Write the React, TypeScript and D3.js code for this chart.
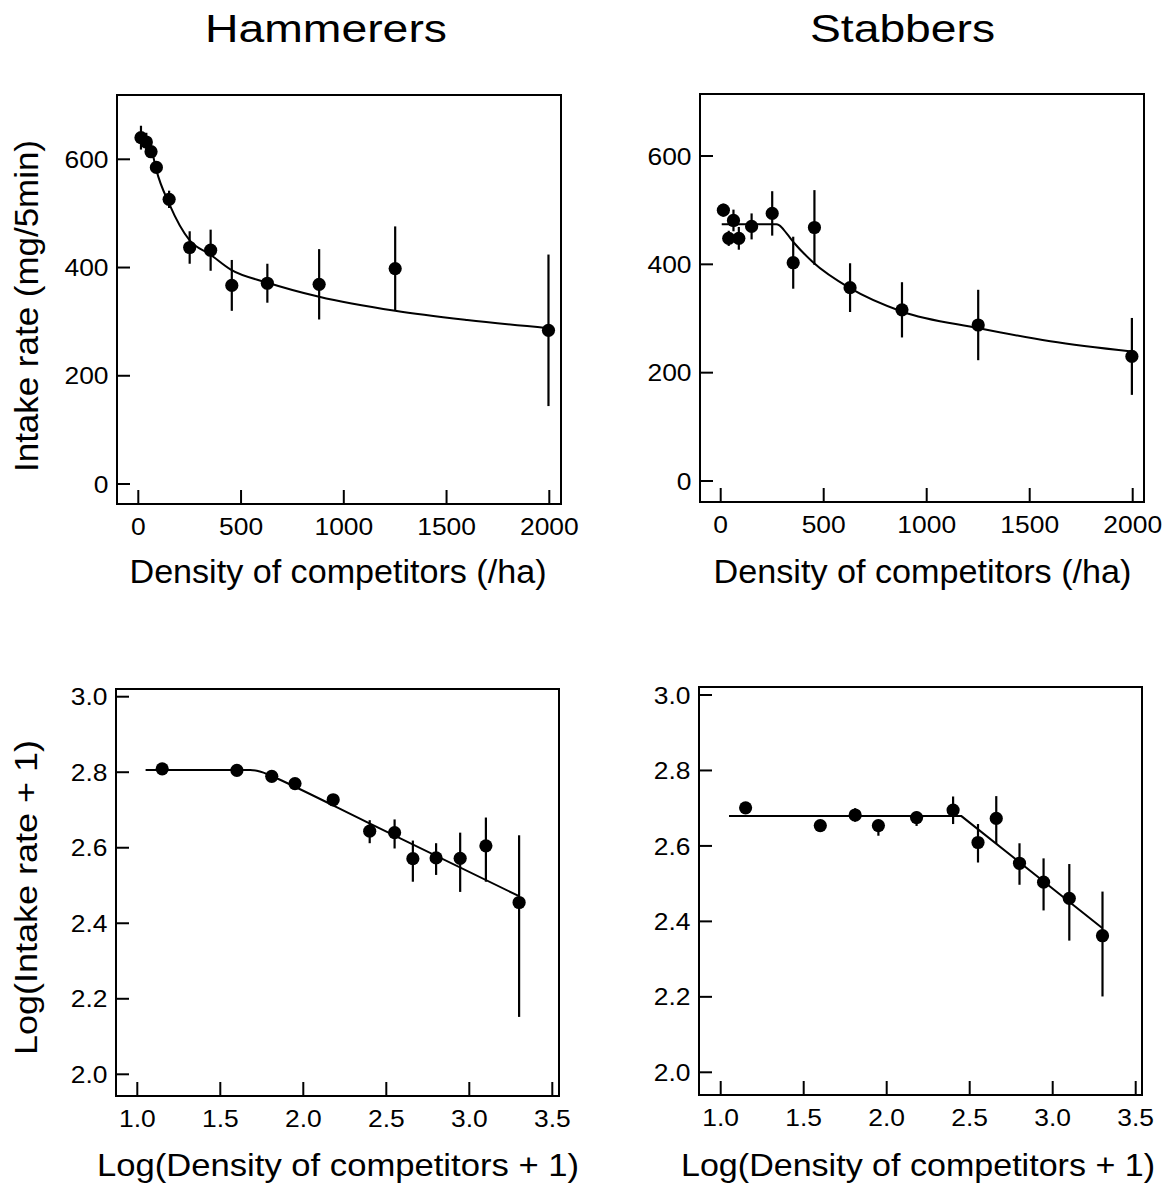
import React from "react";
import * as d3 from "d3";

// Competitor densities (birds/ha) shared by both feeding groups
const densities = [13, 39, 62, 88, 150, 250, 352, 455, 628, 880, 1250, 1996];

// Hammerers: mean intake rate (mg/5min) and standard errors
const hammererIntake = [640, 632, 614, 585, 526, 437, 432, 367, 371, 369, 398, 284];
const hammererSE = [22, 17, 10, 10, 16, 30, 38, 47, 36, 65, 78, 140];

// Stabbers: mean intake rate (mg/5min) and standard errors
const stabberIntake = [500, 448, 481, 448, 470, 494, 403, 468, 357, 316, 288, 230];
const stabberSE = [12, 14, 20, 21, 24, 41, 48, 69, 45, 51, 65, 71];

// Log-transformed versions
const logDensities = [1.15, 1.6, 1.81, 1.95, 2.18, 2.4, 2.55, 2.66, 2.8, 2.945, 3.1, 3.3];
const hammererLog = [2.809, 2.805, 2.789, 2.77, 2.727, 2.644, 2.64, 2.571, 2.573, 2.572, 2.605, 2.455];
const hammererLogLo = [2.8, 2.8, 2.782, 2.762, 2.717, 2.612, 2.598, 2.51, 2.528, 2.483, 2.51, 2.152];
const hammererLogHi = [2.818, 2.812, 2.797, 2.779, 2.737, 2.673, 2.675, 2.619, 2.612, 2.64, 2.68, 2.633];
const stabberLog = [2.701, 2.654, 2.682, 2.654, 2.675, 2.695, 2.609, 2.673, 2.554, 2.504, 2.461, 2.362];
const stabberLogLo = [2.691, 2.641, 2.664, 2.627, 2.653, 2.658, 2.556, 2.605, 2.497, 2.429, 2.349, 2.201];
const stabberLogHi = [2.711, 2.667, 2.7, 2.669, 2.691, 2.731, 2.658, 2.732, 2.607, 2.567, 2.552, 2.479];

// Fitted interference curves
const hammererFitDensity = [10, 39, 50, 62, 88, 150, 250, 350, 450, 630, 880, 1250, 1600, 1996];
const hammererFitIntake = [639, 638, 635, 622, 580, 518, 450, 424, 396, 372, 346, 320, 303, 288];
const stabberFitDensity = [5, 270, 285, 320, 360, 448, 628, 879, 1254, 1600, 1996];
const stabberFitIntake = [474, 474, 472, 457, 438, 404, 356, 313, 282, 258, 239];
const hammererLogFitX = [1.05, 1.68, 1.72, 1.76, 1.8, 1.85, 2.38, 3.3];
const hammererLogFitY = [2.806, 2.806, 2.804, 2.799, 2.792, 2.782, 2.6686, 2.4717];
const stabberLogFitX = [1.05, 2.45, 3.3];
const stabberLogFitY = [2.679, 2.679, 2.382];

// Axis ticks and labels
const densityTicks = [0, 500, 1000, 1500, 2000];
const intakeTicks = [0, 200, 400, 600];
const logDensityTicks = [1.0, 1.5, 2.0, 2.5, 3.0, 3.5];
const logIntakeTicks = [2.0, 2.2, 2.4, 2.6, 2.8, 3.0];
const groupTitles = ["Hammerers", "Stabbers"];
const xTitles = ["Density of competitors (/ha)", "Log(Density of competitors + 1)"];
const yTitles = ["Intake rate (mg/5min)", "Log(Intake rate + 1)"];

const FONT = "'Liberation Sans', Arial, Helvetica, sans-serif";

type Frame = { l: number; r: number; t: number; b: number };

type PanelProps = {
  frame: Frame;
  xDomain: [number, number];
  xRange: [number, number];
  yDomain: [number, number];
  yRange: [number, number];
  xTicks: number[];
  yTicks: number[];
  fmt: (v: number) => string;
  xs: number[];
  ys: number[];
  lo: number[];
  hi: number[];
  fitX: number[];
  fitY: number[];
  curve: d3.CurveFactory;
};

function Panel(p: PanelProps) {
  const x = d3.scaleLinear().domain(p.xDomain).range(p.xRange);
  const y = d3.scaleLinear().domain(p.yDomain).range(p.yRange);
  const { l, r, t, b } = p.frame;
  const fitPts: [number, number][] = p.fitX.map((v, i) => [v, p.fitY[i]]);
  const line = d3
    .line<[number, number]>()
    .x((d) => x(d[0]))
    .y((d) => y(d[1]))
    .curve(p.curve);
  return (
    <g>
      <rect x={l} y={t} width={r - l} height={b - t} fill="none" stroke="#000" strokeWidth={2} />
      {p.xTicks.map((v) => (
        <g key={"xt" + v}>
          <line x1={x(v)} x2={x(v)} y1={b} y2={b - 14} stroke="#000" strokeWidth={2} />
          <text
            transform={`translate(${x(v)},${b + 30.5}) scale(1.1,1)`}
            textAnchor="middle"
            fontSize={24}
            fontFamily={FONT}
          >
            {p.fmt(v)}
          </text>
        </g>
      ))}
      {p.yTicks.map((v) => (
        <g key={"yt" + v}>
          <line x1={l} x2={l + 13} y1={y(v)} y2={y(v)} stroke="#000" strokeWidth={2} />
          <text
            transform={`translate(${l - 8.5},${y(v) + 8.6}) scale(1.1,1)`}
            textAnchor="end"
            fontSize={24}
            fontFamily={FONT}
          >
            {p.fmt(v)}
          </text>
        </g>
      ))}
      <path d={line(fitPts) || ""} fill="none" stroke="#000" strokeWidth={2} />
      {p.xs.map((v, i) => (
        <line
          key={"eb" + i}
          x1={x(v)}
          x2={x(v)}
          y1={y(p.lo[i])}
          y2={y(p.hi[i])}
          stroke="#000"
          strokeWidth={2.2}
        />
      ))}
      {p.xs.map((v, i) => (
        <circle key={"pt" + i} cx={x(v)} cy={y(p.ys[i])} r={6.6} fill="#000" />
      ))}
    </g>
  );
}

export default function App() {
  const intFmt = d3.format("d");
  const decFmt = d3.format(".1f");
  return (
    <svg
      width={1167}
      height={1183}
      viewBox="0 0 1167 1183"
      style={{ position: "absolute", left: 0, top: 0, background: "#fff" }}
    >
      <rect x={0} y={0} width={1167} height={1183} fill="#fff" />

      {/* group headings */}
      <text x={326} y={42.3} textAnchor="middle" fontSize={38} fontFamily={FONT} textLength={242} lengthAdjust="spacingAndGlyphs">
        {groupTitles[0]}
      </text>
      <text x={902.5} y={42.3} textAnchor="middle" fontSize={38} fontFamily={FONT} textLength={185} lengthAdjust="spacingAndGlyphs">
        {groupTitles[1]}
      </text>

      {/* raw intake vs density */}
      <Panel
        frame={{ l: 117, r: 561, t: 95, b: 504 }}
        xDomain={[0, 2000]}
        xRange={[138.3, 549.3]}
        yDomain={[0, 600]}
        yRange={[484, 159.3]}
        xTicks={densityTicks}
        yTicks={intakeTicks}
        fmt={intFmt}
        xs={densities}
        ys={hammererIntake}
        lo={hammererIntake.map((v, i) => v - hammererSE[i])}
        hi={hammererIntake.map((v, i) => v + hammererSE[i])}
        fitX={hammererFitDensity}
        fitY={hammererFitIntake}
        curve={d3.curveMonotoneX}
      />
      <Panel
        frame={{ l: 700, r: 1144, t: 94, b: 502 }}
        xDomain={[0, 2000]}
        xRange={[720.7, 1132.7]}
        yDomain={[0, 600]}
        yRange={[481, 156]}
        xTicks={densityTicks}
        yTicks={intakeTicks}
        fmt={intFmt}
        xs={densities}
        ys={stabberIntake}
        lo={stabberIntake.map((v, i) => v - stabberSE[i])}
        hi={stabberIntake.map((v, i) => v + stabberSE[i])}
        fitX={stabberFitDensity}
        fitY={stabberFitIntake}
        curve={d3.curveMonotoneX}
      />

      {/* log-log panels */}
      <Panel
        frame={{ l: 116, r: 559, t: 689, b: 1096 }}
        xDomain={[1, 3.5]}
        xRange={[137.3, 552.3]}
        yDomain={[2, 3]}
        yRange={[1074.3, 696.7]}
        xTicks={logDensityTicks}
        yTicks={logIntakeTicks}
        fmt={decFmt}
        xs={logDensities}
        ys={hammererLog}
        lo={hammererLogLo}
        hi={hammererLogHi}
        fitX={hammererLogFitX}
        fitY={hammererLogFitY}
        curve={d3.curveMonotoneX}
      />
      <Panel
        frame={{ l: 699, r: 1142, t: 687, b: 1095 }}
        xDomain={[1, 3.5]}
        xRange={[720.7, 1135.7]}
        yDomain={[2, 3]}
        yRange={[1072.3, 695]}
        xTicks={logDensityTicks}
        yTicks={logIntakeTicks}
        fmt={decFmt}
        xs={logDensities}
        ys={stabberLog}
        lo={stabberLogLo}
        hi={stabberLogHi}
        fitX={stabberLogFitX}
        fitY={stabberLogFitY}
        curve={d3.curveLinear}
      />

      {/* axis titles */}
      <text x={338} y={583} textAnchor="middle" fontSize={32.5} fontFamily={FONT} textLength={417} lengthAdjust="spacingAndGlyphs">
        {xTitles[0]}
      </text>
      <text x={922.5} y={583} textAnchor="middle" fontSize={32.5} fontFamily={FONT} textLength={418} lengthAdjust="spacingAndGlyphs">
        {xTitles[0]}
      </text>
      <text x={338} y={1176} textAnchor="middle" fontSize={32} fontFamily={FONT} textLength={482} lengthAdjust="spacingAndGlyphs">
        {xTitles[1]}
      </text>
      <text x={918} y={1176} textAnchor="middle" fontSize={32} fontFamily={FONT} textLength={474} lengthAdjust="spacingAndGlyphs">
        {xTitles[1]}
      </text>
      <text
        transform="translate(37.5,306) rotate(-90)"
        textAnchor="middle"
        fontSize={32.5}
        fontFamily={FONT}
        textLength={332}
        lengthAdjust="spacingAndGlyphs"
      >
        {yTitles[0]}
      </text>
      <text
        transform="translate(36.5,897.5) rotate(-90)"
        textAnchor="middle"
        fontSize={32}
        fontFamily={FONT}
        textLength={315}
        lengthAdjust="spacingAndGlyphs"
      >
        {yTitles[1]}
      </text>
    </svg>
  );
}
